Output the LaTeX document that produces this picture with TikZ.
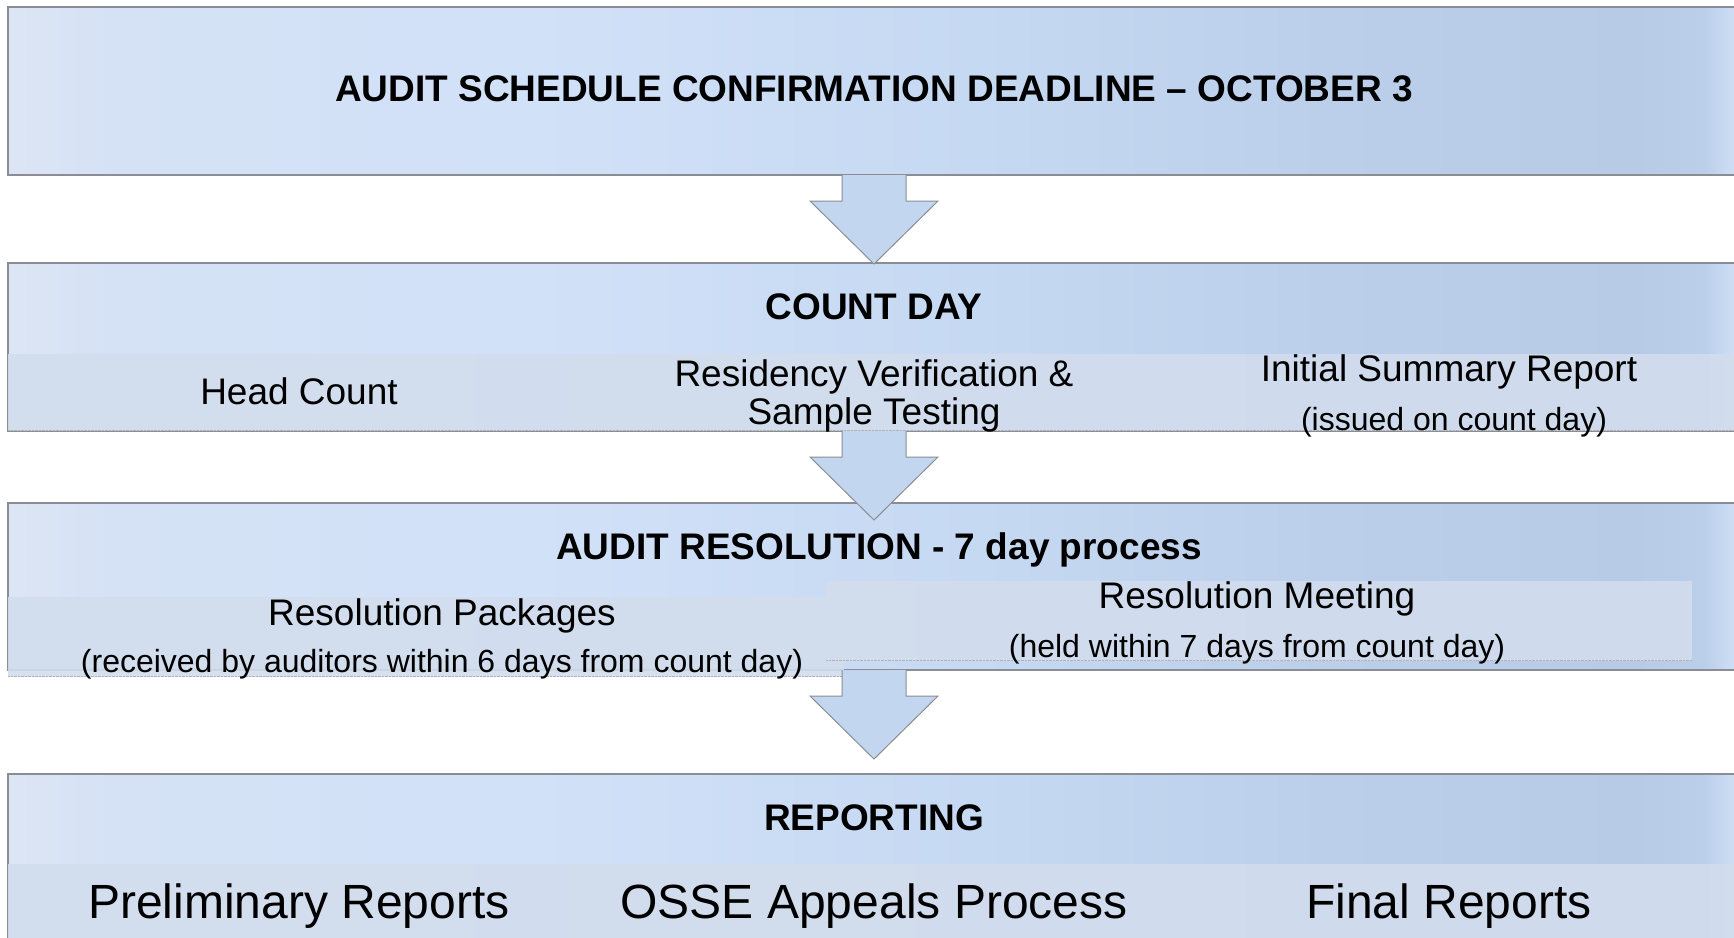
\documentclass[tikz,border=0pt]{standalone}
\usepackage{fontspec}
\setmainfont{Liberation Sans}
\usetikzlibrary{calc}

\definecolor{edge}{HTML}{8A8D93}
\definecolor{bandfill}{HTML}{D2DDED}
\definecolor{arrowfill}{HTML}{C3D6F0}
\definecolor{shA}{HTML}{DCE5F4}
\definecolor{shB}{HTML}{D5E2F5}
\definecolor{shC}{HTML}{D1E1F8}
\definecolor{shD}{HTML}{C6D9F2}
\definecolor{shE}{HTML}{BBCFEB}
\definecolor{shF}{HTML}{B7CBE7}
\definecolor{shG}{HTML}{D3E2F7}

% left-to-right tint of the stage boxes (inner 25--75bp is the box)
\pgfdeclarehorizontalshading{stageshade}{100bp}{color(0bp)=(shA); color(25bp)=(shA);
  color(28bp)=(shB); color(40bp)=(shC); color(53bp)=(shD); color(63bp)=(shE);
  color(72bp)=(shF); color(74bp)=(shE); color(75bp)=(shG); color(100bp)=(shG)}

\begin{document}
\begin{tikzpicture}[x=1pt,y=-1pt,
    stage/.style={anchor=north west,inner sep=0,outer sep=0,minimum width=1732,
      shading=stageshade,draw=edge,line width=1.2pt},
    band/.style={anchor=north west,inner sep=0,outer sep=0,fill=bandfill,fill opacity=.9,
      path picture={\draw[densely dotted,gray!60]
        ([yshift=.6pt]path picture bounding box.south west) --
        ([yshift=.6pt]path picture bounding box.south east);}},
    arr/.style={fill=arrowfill,draw=edge,line width=1pt,line join=miter},
    hd/.style={anchor=base,inner sep=0,font=\fontsize{37}{44}\selectfont\bfseries},
    txt/.style={anchor=base,inner sep=0,font=\fontsize{37}{44}\selectfont},
    note/.style={anchor=base,inner sep=0,font=\fontsize{32}{38}\selectfont},
    big/.style={anchor=base,inner sep=0,font=\fontsize{48}{56}\selectfont}]
  \useasboundingbox (0,0) rectangle (1734,937);
  \fill[white] (0,0) rectangle (1734,937);

  % the four stages
  \node (sched)  [stage,minimum height=168] at (8,7)   {};
  \node (count)  [stage,minimum height=168] at (8,263) {};
  \node (resol)  [stage,minimum height=167] at (8,503) {};
  \node (report) [stage,minimum height=200] at (8,774) {};

  % lighter strips holding the sub-steps
  \node (countband) [band,minimum width=1732,minimum height=77] at (8,354) {};
  \node (packband)  [band,minimum width=836,minimum height=80]  at (8,597) {};
  \node (meetband)  [band,minimum width=866,minimum height=80]  at (826,581) {};
  \node (repband)   [band,minimum width=1732,minimum height=80] at (8,864) {};

  % block arrows between the stages
  \foreach \s in {sched,count,resol}
    \draw[arr] ($(\s.south)+(-32,0)$) -- ++(0,26) -- ++(-32,0) -- ($(\s.south)+(0,89)$)
      -- ($(\s.south)+(64,26)$) -- ++(-32,0) -- ($(\s.south)+(32,0)$);

  \node (t1) [hd] at (874,101) {AUDIT SCHEDULE CONFIRMATION DEADLINE \textendash{} OCTOBER 3};

  \node (t2) [hd] at (874,319) {COUNT DAY};
  \node (head) [txt] at (299,404) {Head Count};
  \node (resid) [txt] at (874,386) {Residency Verification \&};
  \node (sample) [txt] at (874,424) {Sample Testing};
  \node (isr) [txt] at (1449,381) {Initial Summary Report};
  \node (issued) [note] at (1454,430) {(issued on count day)};

  \node (t3) [hd] at (879,559) {AUDIT RESOLUTION - 7 day process};
  \node (pack) [txt] at (442,625) {Resolution Packages};
  \node (recv) [note] at (442,672) {(received by auditors within 6 days from count day)};
  \node (meet) [txt] at (1257,608) {Resolution Meeting};
  \node (held) [note] at (1257,657) {(held within 7 days from count day)};

  \node (t4) [hd] at (874,830) {REPORTING};
  \node (prelim) [big] at (299,918) {Preliminary Reports};
  \node (appeal) [big] at (874,918) {OSSE Appeals Process};
  \node (final) [big] at (1449,918) {Final Reports};
\end{tikzpicture}
\end{document}
